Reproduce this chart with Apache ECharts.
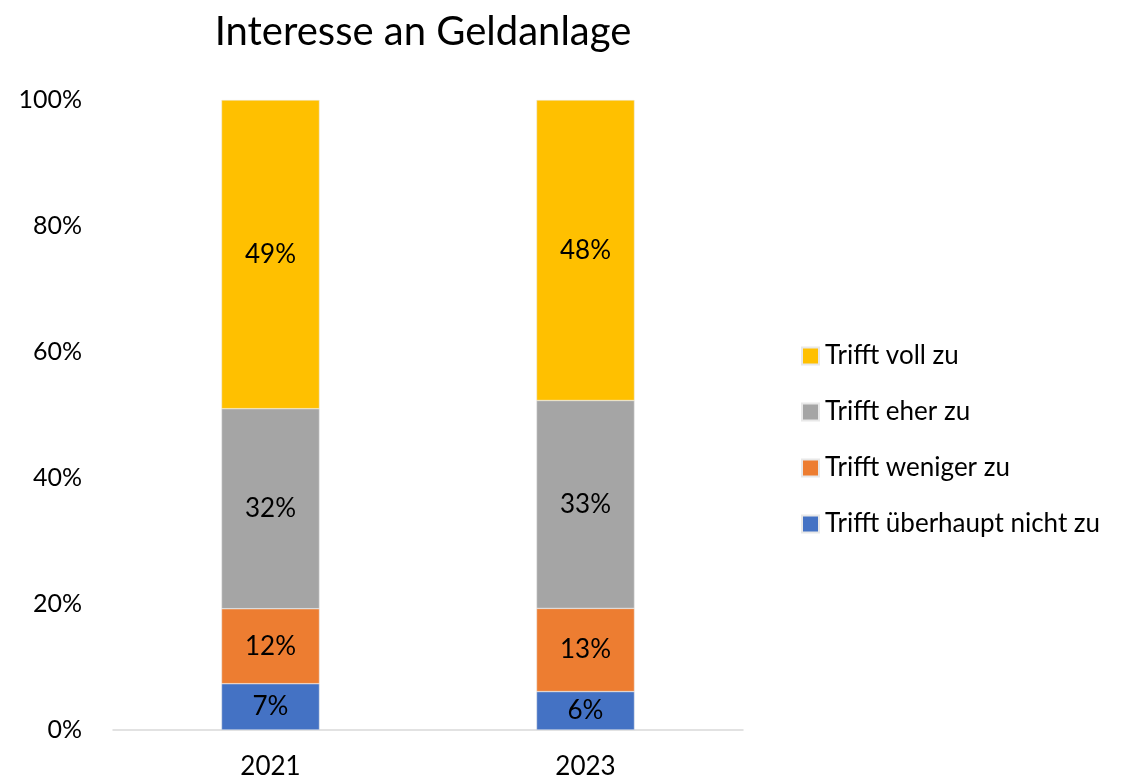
<!DOCTYPE html>
<html>
<head>
<meta charset="utf-8">
<script src="https://cdn.jsdelivr.net/npm/echarts@6/dist/echarts.min.js"></script>
<style>
  html, body { margin: 0; padding: 0; background: #fff; }
  #chart { width: 1125px; height: 782px; }
</style>
</head>
<body>
<div id="chart"></div>
<script>
// Jahre
const years = ['2021', '2023']
// Anteile in Prozent (von unten nach oben gestapelt)
const ueberhauptNicht = [7.35, 6.1]
const weniger = [11.9, 13.2]
const eher = [31.75, 33.0]
const voll = [49.0, 47.7]
const yTicks = [0, 20, 40, 60, 80, 100]

const font = 'Lato, "Open Sans", sans-serif'
const chart = echarts.init(document.getElementById('chart'))

function barSeries (name, data, color) {
  return {
    name: name,
    type: 'bar',
    stack: 'gesamt',
    barWidth: 98,
    data: data,
    itemStyle: { color: color, borderColor: '#e8e8e8', borderWidth: 0.5 },
    label: {
      show: true,
      position: 'inside',
      color: '#000',
      fontSize: 26,
      fontFamily: font,
      formatter: p => Math.round(p.value) + '%'
    }
  }
}

const option = {
  backgroundColor: '#fff',
  animation: false,
  title: {
    text: 'Interesse an Geldanlage',
    left: 418,
    top: 7,
    textAlign: 'center',
    textStyle: { fontSize: 40, fontWeight: 'normal', color: '#000', fontFamily: font }
  },
  legend: {
    orient: 'vertical',
    left: 796,
    top: 338,
    itemWidth: 17,
    itemHeight: 17,
    itemGap: 30,
    icon: 'rect',
    data: ['Trifft voll zu', 'Trifft eher zu', 'Trifft weniger zu', 'Trifft überhaupt nicht zu'],
    textStyle: { fontSize: 26, color: '#000', fontFamily: font, padding: [0, 0, 0, 1] }
  },
  grid: { left: 113, right: 382, top: 100, bottom: 52 },
  xAxis: {
    type: 'category',
    data: years,
    axisLine: { lineStyle: { color: '#d9d9d9', width: 1.5 } },
    axisTick: { show: false },
    axisLabel: { fontSize: 26, color: '#000', fontFamily: font, margin: 24 }
  },
  yAxis: {
    type: 'value',
    min: yTicks[0],
    max: yTicks[yTicks.length - 1],
    interval: 20,
    axisLine: { show: false },
    axisTick: { show: false },
    splitLine: { show: false },
    axisLabel: { fontSize: 25, color: '#000', fontFamily: font, margin: 31, formatter: '{value}%' }
  },
  series: [
    barSeries('Trifft überhaupt nicht zu', ueberhauptNicht, '#4472C4'),
    barSeries('Trifft weniger zu', weniger, '#ED7D31'),
    barSeries('Trifft eher zu', eher, '#A5A5A5'),
    barSeries('Trifft voll zu', voll, '#FFC000')
  ]
}
chart.setOption(option)
</script>
</body>
</html>
